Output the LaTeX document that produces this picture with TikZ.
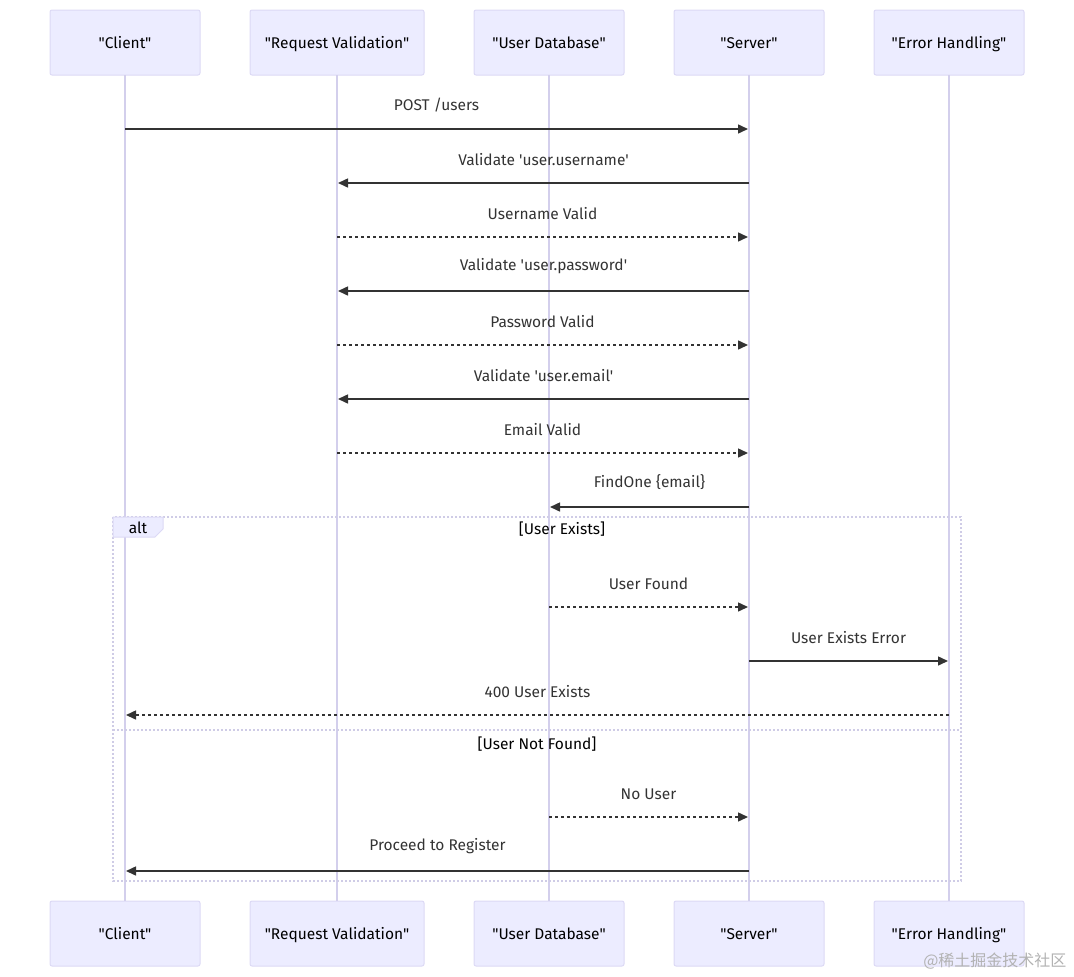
\documentclass[tikz,border=0pt]{standalone}
\usepackage{fontspec}
\setmainfont{Fira Sans}[Ligatures=TeXOff]
\newfontfamily\cjkfont{Noto Sans CJK SC}
\usetikzlibrary{positioning,arrows.meta,calc}
\definecolor{actorfill}{HTML}{ECECFF}
\definecolor{actorline}{HTML}{DCD9F5}
\definecolor{lifeline}{HTML}{D3CFEC}
\definecolor{msgline}{HTML}{333333}
\definecolor{altline}{HTML}{CFCCE6}

\begin{document}
\begin{tikzpicture}[
    x=1pt, y=-1pt,
    font=\fontsize{15.5}{18}\selectfont,
    Actor/.style={
        rectangle,
        draw=actorline,
        fill=actorfill,
        line width=1pt,
        rounded corners=2pt,
        minimum height=65pt,
        minimum width=150pt,
        text height=12.5pt,
        text depth=1.5pt,
        inner sep=0pt,
        outer sep=0pt,
        text=black
    },
    Msg/.style={
        draw=msgline,
        line width=1.5pt,
        -{Triangle[length=10pt,width=9pt]}
    },
    Reply/.style={
        Msg,
        dash pattern=on 3pt off 3pt
    },
    Lbl/.style={
        above=13pt,
        midway,
        text=msgline
    },
    node distance=50pt
    ]
    \useasboundingbox (0,0) rectangle (1074,977);

    % participants, top row
    \node[Actor] (clientT) at (125,42.5) {"Client"};
    \node[Actor,minimum width=174pt] (reqT) [right=of clientT] {"Request Validation"};
    \node[Actor] (dbT) [right=of reqT] {"User Database"};
    \node[Actor] (srvT) [right=of dbT] {"Server"};
    \node[Actor] (errT) [right=of srvT] {"Error Handling"};

    % participants, bottom row
    \node[Actor] (clientB) at (125,933.5) {"Client"};
    \node[Actor,minimum width=174pt] (reqB) [right=of clientB] {"Request Validation"};
    \node[Actor] (dbB) [right=of reqB] {"User Database"};
    \node[Actor] (srvB) [right=of dbB] {"Server"};
    \node[Actor] (errB) [right=of srvB] {"Error Handling"};

    % lifelines
    \foreach \p in {client,req,db,srv,err}
        \draw[lifeline,line width=1.5pt] (\p T.south) -- (\p B.north);

    % alt frame
    \draw[altline,line width=1.2pt,dash pattern=on 2pt off 2pt] (113,517) rectangle (961,881);
    \draw[altline,line width=1.2pt,dash pattern=on 2pt off 2pt] (113,730) -- (961,730);
    \draw[actorline,fill=actorfill,line width=1pt] (113,517) -- (163,517) -- (163,529) -- (155,537) -- (113,537) -- cycle;
    \node (altlbl) at (138,528) {alt};
    \node (case1) at (562,529) {[User Exists]};
    \node (case2) at (537,744) {[User Not Found]};

    % messages
    \draw[Msg] (clientT.south |- 0,129) -- ([xshift=-1pt]srvT.south |- 0,129) node[Lbl] (m1) {POST /users};
    \draw[Msg] (srvT.south |- 0,183) -- ([xshift=1pt]reqT.south |- 0,183) node[Lbl] (m2) {Validate 'user.username'};
    \draw[Reply] (reqT.south |- 0,237) -- ([xshift=-1pt]srvT.south |- 0,237) node[Lbl] (m3) {Username Valid};
    \draw[Msg] (srvT.south |- 0,291) -- ([xshift=1pt]reqT.south |- 0,291) node[Lbl] (m4) {Validate 'user.password'};
    \draw[Reply] (reqT.south |- 0,345) -- ([xshift=-1pt]srvT.south |- 0,345) node[Lbl] (m5) {Password Valid};
    \draw[Msg] (srvT.south |- 0,399) -- ([xshift=1pt]reqT.south |- 0,399) node[Lbl] (m6) {Validate 'user.email'};
    \draw[Reply] (reqT.south |- 0,453) -- ([xshift=-1pt]srvT.south |- 0,453) node[Lbl] (m7) {Email Valid};
    \draw[Msg] (srvT.south |- 0,507) -- ([xshift=1pt]dbT.south |- 0,507) node[Lbl] (m8) {FindOne \{email\}};
    \draw[Reply] (dbT.south |- 0,607) -- ([xshift=-1pt]srvT.south |- 0,607) node[Lbl] (m9) {User Found};
    \draw[Msg] (srvT.south |- 0,661) -- ([xshift=-1pt]errT.south |- 0,661) node[Lbl] (m10) {User Exists Error};
    \draw[Reply] (errT.south |- 0,715) -- ([xshift=1pt]clientT.south |- 0,715) node[Lbl] (m11) {400 User Exists};
    \draw[Reply] (dbT.south |- 0,817) -- ([xshift=-1pt]srvT.south |- 0,817) node[Lbl] (m12) {No User};
    \draw[Msg] (srvT.south |- 0,871) -- ([xshift=1pt]clientT.south |- 0,871) node[Lbl] (m13) {Proceed to Register};

    % watermark
    \node[text=black!30,font=\cjkfont\fontsize{16}{18}\selectfont,anchor=east] (wm) at (1070,961) {@稀土掘金技术社区};
\end{tikzpicture}
\end{document}
